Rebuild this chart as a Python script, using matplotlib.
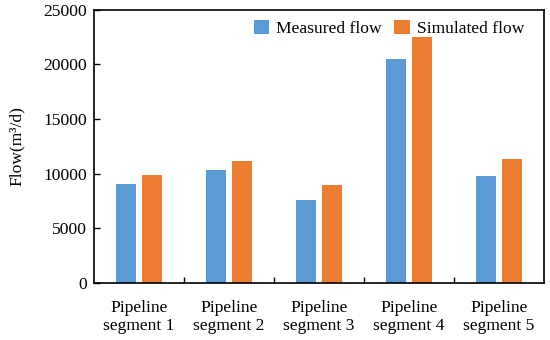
import matplotlib
matplotlib.use('Agg')
import matplotlib.pyplot as plt
import numpy as np

plt.rcParams['font.family'] = ['Liberation Serif', 'DejaVu Serif']

segments = ['Pipeline\nsegment 1', 'Pipeline\nsegment 2', 'Pipeline\nsegment 3',
            'Pipeline\nsegment 4', 'Pipeline\nsegment 5']
measured = [9100, 10300, 7600, 20500, 9750]
simulated = [9900, 11200, 8950, 22500, 11300]

BLUE = '#5B9BD5'
ORANGE = '#ED7D31'
FS = 12.6

fig = plt.figure(figsize=(5.5, 3.4), dpi=100)
ax = fig.add_axes([0.171, 0.168, 0.818, 0.803])

x = np.arange(len(segments))
w = 0.222
ax.bar(x - 0.142, measured, w, color=BLUE, label='Measured flow')
ax.bar(x + 0.142, simulated, w, color=ORANGE, label='Simulated flow')

ax.set_xlim(-0.5, len(segments) - 0.5)
ax.set_ylim(0, 25000)
ax.set_yticks(np.arange(0, 25001, 5000))
ax.set_xticks(x)
ax.set_xticklabels(segments, fontsize=FS, linespacing=1.2)
ax.set_xticks(x[:-1] + 0.5, minor=True)
ax.tick_params(axis='x', which='major', length=0, pad=12)
ax.tick_params(axis='x', which='minor', direction='in', length=4, width=1)
ax.tick_params(axis='y', direction='in', length=4, width=1, labelsize=FS, pad=5)
ax.set_ylabel('Flow(m³/d)', fontsize=FS, labelpad=13)
for s in ax.spines.values():
    s.set_linewidth(1.2)

ax.legend(loc='upper right', ncol=2, frameon=False, fontsize=FS,
          handlelength=0.9, handleheight=0.9, handletextpad=0.4,
          columnspacing=0.7, borderaxespad=0, bbox_to_anchor=(0.972, 0.99))

fig.savefig('out.png', dpi=100)
